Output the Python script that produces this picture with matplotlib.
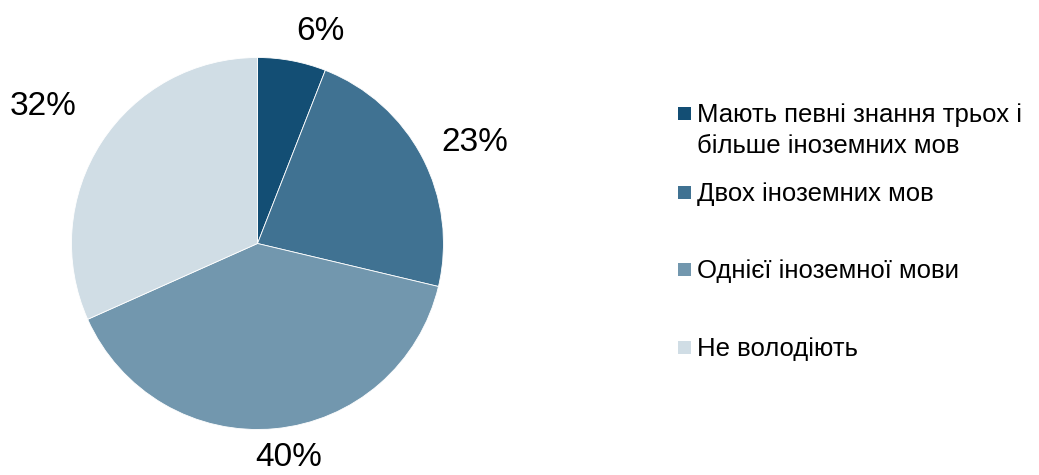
import matplotlib
matplotlib.use("Agg")
import matplotlib.pyplot as plt
from matplotlib.patches import Rectangle
import numpy as np

plt.rcParams['font.family'] = ['Liberation Sans', 'DejaVu Sans']

# data
categories = ["Мають певні знання трьох і\nбільше іноземних мов",
              "Двох іноземних мов",
              "Однієї іноземної мови",
              "Не володіють"]
shares = [6, 23, 40, 32]
colors = ['#134e74', '#407292', '#7297ae', '#d0dde5']

W, H = 1039, 475


def fx(x):
    return x / W


def fy(y):
    return 1 - y / H


fig = plt.figure(figsize=(W / 100, H / 100), dpi=100)
fig.patch.set_facecolor('white')

# pie axes: centre ~ (257.5, 243.5) px, radius ~186 px
cx, cy, r = 257.5, 243.5, 186
ax = fig.add_axes([fx(cx - r), fy(cy + r), 2 * r / W, 2 * r / H])
wedges, _ = ax.pie(shares, colors=colors, startangle=90, counterclock=False,
                   radius=1.0, wedgeprops=dict(edgecolor='white', linewidth=0.6))
ax.set_xlim(-1, 1)
ax.set_ylim(-1, 1)
ax.set_aspect('auto')
ax.axis('off')

# outside-end data labels, nudged a bit like the original
nudges = [(0.12, -0.01), (0.13, 0.0), (0.06, 0.015), (-0.17, 0.10)]
for w, v, (dx, dy) in zip(wedges, shares, nudges):
    mid = np.deg2rad((w.theta1 + w.theta2) / 2)
    x = 1.17 * np.cos(mid) + dx
    y = 1.17 * np.sin(mid) + dy
    ax.text(x, y, f"{v}%", ha='center', va='center', fontsize=24,
            color='black', clip_on=False)

# legend drawn by hand to keep the uneven Excel spacing
marker_y = [113, 192, 269, 347]
msize = 13
line_step = 31
for lab, col, my in zip(categories, colors, marker_y):
    fig.patches.append(Rectangle((fx(678), fy(my + msize / 2)), msize / W, msize / H,
                                 transform=fig.transFigure, facecolor=col,
                                 edgecolor='none'))
    for k, line in enumerate(lab.split('\n')):
        fig.text(fx(697), fy(my + 9 + k * line_step), line, ha='left',
                 va='baseline', fontsize=18.5, color='black')

fig.savefig("out.png", dpi=100, facecolor='white')
